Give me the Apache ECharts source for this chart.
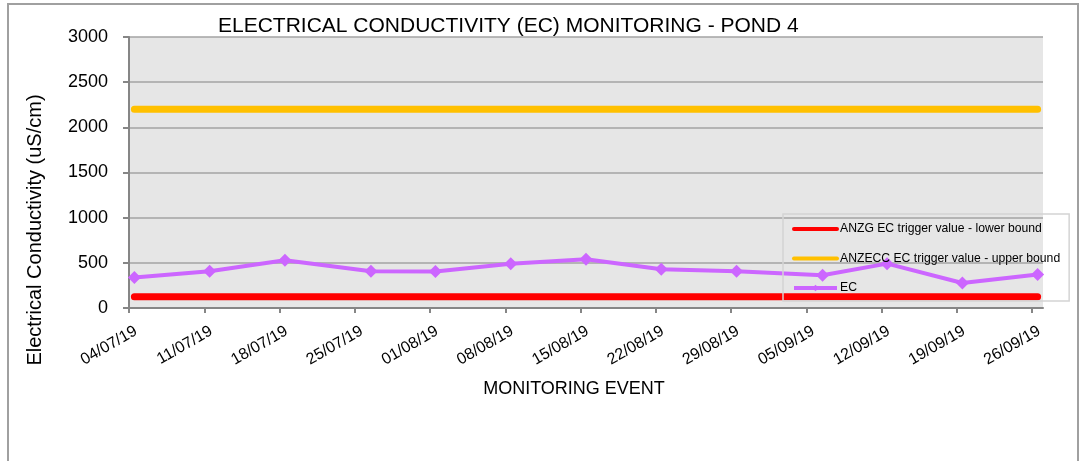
<!DOCTYPE html>
<html>
<head>
<meta charset="utf-8">
<script src="https://cdn.jsdelivr.net/npm/echarts@6/dist/echarts.min.js"></script>
<style>
html,body{margin:0;padding:0;background:#fff;}
#chart{width:1081px;height:461px;}
</style>
</head>
<body>
<div id="chart"></div>
<script>
// ---- data ----
var sampleDates = ['04/07/19','11/07/19','18/07/19','26/07/19','01/08/19','08/08/19','15/08/19','22/08/19','29/08/19','06/09/19','12/09/19','19/09/19','26/09/19'];
var ecValues = [337, 406, 528, 406, 403, 491, 539, 428, 406, 362, 491, 277, 370];
var lowerBound = 125;
var upperBound = 2200;
var tickLabels = ['04/07/19','11/07/19','18/07/19','25/07/19','01/08/19','08/08/19','15/08/19','22/08/19','29/08/19','05/09/19','12/09/19','19/09/19','26/09/19'];
var seriesNames = ['ANZG EC trigger value - lower bound','ANZECC EC trigger value - upper bound','EC'];

function parseDate(s){
  var p = s.split('/');
  return Date.UTC(2000 + (+p[2]), (+p[1]) - 1, +p[0]);
}
var startMs = parseDate(tickLabels[0]);
function dayPos(s){ return (parseDate(s) - startMs) / 86400000 + 0.5; }

var xs = sampleDates.map(dayPos);
var ecData = xs.map(function(x, i){ return [x, ecValues[i]]; });
var lowData = xs.map(function(x){ return [x, lowerBound]; });
var upData = xs.map(function(x){ return [x, upperBound]; });

var FONT = 'Liberation Sans';
var chart = echarts.init(document.getElementById('chart'), null, {renderer:'canvas'});
chart.setOption({
  animation: false,
  backgroundColor: '#ffffff',
  textStyle: {fontFamily: FONT},
  title: {
    text: 'ELECTRICAL CONDUCTIVITY (EC) MONITORING - POND 4',
    left: 213, top: 11,
    textStyle: {fontFamily: FONT, fontSize: 21, fontWeight: 'normal', color: '#000'}
  },
  grid: {
    left: 129, right: 38, top: 37, bottom: 153,
    show: true, backgroundColor: '#e6e6e6', borderWidth: 0
  },
  legend: {
    orient: 'vertical',
    left: 783, top: 214,
    padding: [9, 9, 7, 9],
    itemGap: 17.5,
    itemWidth: 43, itemHeight: 8,
    borderColor: '#d4d4d4', borderWidth: 1.5,
    backgroundColor: 'transparent',
    lineStyle: {width: 4},
    textStyle: {fontFamily: FONT, fontSize: 12.2, color: '#000', padding: [0,0,0,-2]},
    data: [
      {name: seriesNames[0], itemStyle: {opacity: 0}},
      {name: seriesNames[1], itemStyle: {opacity: 0}},
      {name: seriesNames[2]}
    ]
  },
  xAxis: {
    type: 'value', min: 0, max: 85, interval: 7,
    axisLine: {show: true, lineStyle: {color: '#868686', width: 2}},
    axisTick: {show: true, length: 5, lineStyle: {color: '#868686', width: 2}},
    splitLine: {show: false},
    axisLabel: {
      rotate: 30, margin: 26, fontSize: 16, color: '#000', fontFamily: FONT,
      padding: [0, -8, 0, 0],
      showMaxLabel: false,
      formatter: function(v){
        if (Math.abs(v % 7) > 1e-6) return '';
        var idx = Math.round(v / 7);
        return tickLabels[idx] || '';
      }
    }
  },
  yAxis: {
    type: 'value', min: 0, max: 3000, interval: 500,
    axisLine: {show: true, lineStyle: {color: '#868686', width: 2}},
    axisTick: {show: true, length: 6, lineStyle: {color: '#868686', width: 2}},
    splitLine: {show: true, lineStyle: {color: '#a3a3a3', width: 1.5}},
    axisLabel: {fontSize: 18, color: '#000', margin: 21, fontFamily: FONT,
      formatter: function(v){ return String(v); }}
  },
  graphic: [
    {type: 'rect', shape: {x: 8, y: 4, width: 1070, height: 470}, style: {fill: 'none', stroke: '#a0a0a0', lineWidth: 2}, silent: true, z: 100},
    {type: 'text', x: 35, y: 230, rotation: Math.PI / 2,
      style: {text: 'Electrical Conductivity (uS/cm)', fontFamily: FONT, fontSize: 20, fill: '#000', textAlign: 'center', textVerticalAlign: 'middle'}},
    {type: 'text', x: 574, y: 389,
      style: {text: 'MONITORING EVENT', fontFamily: FONT, fontSize: 18, fill: '#000', textAlign: 'center', textVerticalAlign: 'middle'}}
  ],
  series: [
    {name: seriesNames[0], type: 'line', data: lowData, symbol: 'none', color: '#ff0000',
      lineStyle: {color: '#ff0000', width: 7, cap: 'round'}, z: 2},
    {name: seriesNames[1], type: 'line', data: upData, symbol: 'none', color: '#ffc000',
      lineStyle: {color: '#ffc000', width: 7, cap: 'round'}, z: 2},
    {name: seriesNames[2], type: 'line', data: ecData, symbol: 'diamond', symbolSize: 13, color: '#cc66ff',
      itemStyle: {color: '#cc66ff'}, lineStyle: {color: '#cc66ff', width: 4}, z: 3}
  ]
});
</script>
</body>
</html>
